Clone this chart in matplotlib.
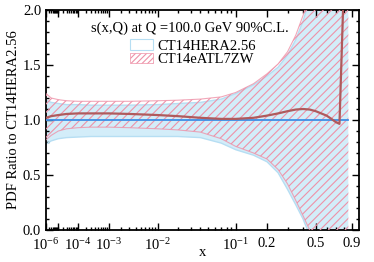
import numpy as np
import matplotlib
matplotlib.use('Agg')
import matplotlib.pyplot as plt
from matplotlib.patches import Patch
from matplotlib.ticker import FixedLocator, FixedFormatter

plt.rcParams['font.family'] = ['Liberation Serif', 'DejaVu Serif']
plt.rcParams['mathtext.fontset'] = 'custom'
plt.rcParams['mathtext.rm'] = 'Liberation Serif'
plt.rcParams['hatch.linewidth'] = 0.8

# x grid of the bands
x = [1e-6, 3e-6, 1e-5, 3e-5, 1e-4, 3e-4, 1e-3, 3e-3, 1e-2, 0.02, 0.04, 0.07,
     0.1, 0.15, 0.2, 0.25, 0.3, 0.35, 0.4, 0.45, 0.5, 0.6, 0.7, 0.8, 0.85]

# CT14HERA2.56 band (ratio to itself)
hera_hi = [1.18, 1.16, 1.15, 1.14, 1.14, 1.135, 1.135, 1.135, 1.14, 1.15, 1.16, 1.19,
           1.24, 1.32, 1.40, 1.48, 1.59, 1.73, 1.90, 2.10, 2.4, 3.0, 3.5, 4.0, 4.0]
hera_lo = [0.78, 0.81, 0.83, 0.84, 0.845, 0.85, 0.85, 0.85, 0.85, 0.85, 0.84, 0.79,
           0.73, 0.68, 0.62, 0.52, 0.37, 0.23, 0.10, -0.05, -0.3, -1.0, -1.5, -2.0, -2.0]
hera_c = [1.0] * len(x)

# CT14eATL7ZW band
eatl_hi = [1.24, 1.20, 1.185, 1.175, 1.17, 1.17, 1.17, 1.17, 1.175, 1.18, 1.19, 1.21,
           1.25, 1.33, 1.42, 1.51, 1.62, 1.77, 1.95, 2.15, 2.5, 3.0, 3.5, 4.0, 4.0]
eatl_lo = [0.82, 0.86, 0.90, 0.92, 0.93, 0.935, 0.935, 0.93, 0.92, 0.91, 0.89, 0.83,
           0.76, 0.70, 0.645, 0.55, 0.42, 0.27, 0.13, 0.0, -0.2, -1.0, -1.5, -2.0, -2.0]

# CT14eATL7ZW central ratio
xc = [1e-6, 3e-6, 1e-5, 3e-5, 1e-4, 3e-4, 1e-3, 3e-3, 1e-2, 0.02, 0.04, 0.07,
      0.1, 0.15, 0.2, 0.25, 0.3, 0.35, 0.4, 0.45, 0.5, 0.6, 0.65, 0.7, 0.74, 0.8]
eatl_c = [1.02, 1.035, 1.045, 1.055, 1.06, 1.06, 1.06, 1.055, 1.045, 1.035, 1.02, 1.01,
          1.01, 1.02, 1.04, 1.06, 1.08, 1.095, 1.10, 1.095, 1.08, 1.04, 1.01, 0.98, 0.965, 2.4]

xticks = [1e-6, 1e-5, 1e-4, 1e-3, 1e-2, 0.1, 0.2, 0.5, 0.9]
xticklabels = [r'$\mathregular{10^{-6}}$', '', r'$\mathregular{10^{-4}}$',
               r'$\mathregular{10^{-3}}$', r'$\mathregular{10^{-2}}$',
               r'$\mathregular{10^{-1}}$', '0.2', '0.5', '0.9']

blue_fill = '#d3edf9'
blue_edge = '#b6def3'
pink = '#ee92a8'

fig = plt.figure(figsize=(3.74, 2.62), dpi=100)
ax = fig.add_subplot(111)
fig.subplots_adjust(left=46/374, right=359/374, bottom=32/262, top=1-10/262)

ax.set_xscale('function', functions=(lambda v: np.power(np.clip(v, 1e-12, None), 0.2),
                                     lambda v: np.power(np.clip(v, 0, None), 5)))

ax.fill_between(x, hera_lo, hera_hi, facecolor=blue_fill, edgecolor='none', zorder=1)
ax.plot(x, hera_hi, color=blue_edge, lw=1.0, zorder=2)
ax.plot(x, hera_lo, color=blue_edge, lw=1.0, zorder=2)
ax.fill_between(x, eatl_lo, eatl_hi, facecolor='none', edgecolor=pink, hatch='////',
                linewidth=0, zorder=3)
ax.plot(x, eatl_hi, color=pink, lw=0.8, alpha=0.8, zorder=3)
ax.plot(x, eatl_lo, color=pink, lw=0.8, alpha=0.8, zorder=3)
ax.plot(x, hera_c, color='#3d8ee6', lw=1.3, zorder=4)
ax.plot(xc, eatl_c, color='#b05a5c', lw=1.6, zorder=5)

ax.set_xlim(1e-6, 1.0)
ax.set_ylim(0, 2)

ax.xaxis.set_major_locator(FixedLocator(xticks))
ax.xaxis.set_major_formatter(FixedFormatter(xticklabels))
minors = [k * 10.0**n for n in range(-6, -1) for k in range(2, 10)] + [0.3, 0.4, 0.6, 0.7, 0.8]
ax.xaxis.set_minor_locator(FixedLocator(minors))
ax.set_yticks([0, 0.5, 1.0, 1.5, 2.0])
ax.set_yticklabels(['0.0', '0.5', '1.0', '1.5', '2.0'])
ax.set_yticks(np.arange(0, 2.01, 0.1), minor=True)

ax.tick_params(which='both', direction='in', top=True, right=True, labelsize=10.5,
               width=1.0)
ax.tick_params(which='major', length=5)
ax.tick_params(which='minor', length=2.5)
ax.tick_params(axis='x', which='major', pad=5)
for s in ax.spines.values():
    s.set_linewidth(1.3)

ax.set_xlabel('x', fontsize=10.5, labelpad=-5)
ax.set_ylabel('PDF Ratio to CT14HERA2.56', fontsize=10.5, labelpad=2)

ax.text(0.46, 0.915, 's(x,Q) at Q =100.0 GeV 90%C.L.', transform=ax.transAxes,
        ha='center', va='center', fontsize=10.5)
handles = [Patch(facecolor='white', edgecolor=blue_edge, linewidth=0.8),
           Patch(facecolor='white', edgecolor=pink, hatch='//////', linewidth=0.5)]
leg = ax.legend(handles, ['CT14HERA2.56', 'CT14eATL7ZW'],
                fontsize=10.5, frameon=False, loc='upper center',
                bbox_to_anchor=(0.47, 0.913), handlelength=1.6, handleheight=0.7,
                labelspacing=0.05, handletextpad=0.3, borderpad=0.2)

fig.savefig('out.png', dpi=100)
